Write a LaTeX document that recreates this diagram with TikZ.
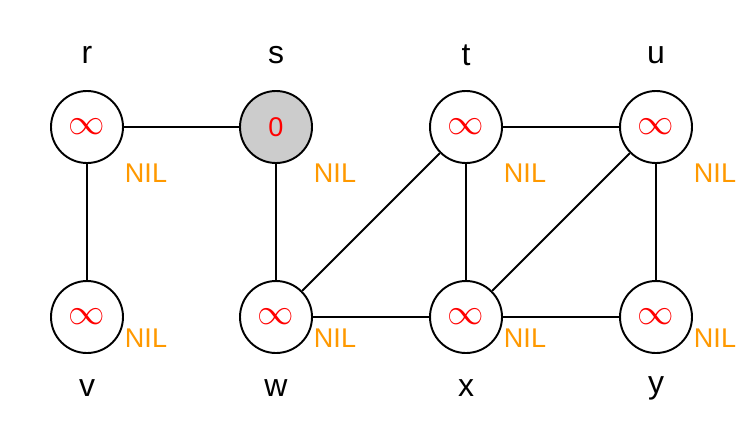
\documentclass[tikz,border=0pt]{standalone}
\usepackage{fontspec}
\setmainfont{Liberation Sans}
\usepackage{amsmath}
\usepackage{amssymb}

\definecolor{nilorange}{HTML}{FF9900}
\definecolor{srcgray}{HTML}{CCCCCC}

\tikzset{
  vert/.style={circle,draw=black,line width=1.1pt,fill=white,minimum size=1.44cm,inner sep=0pt,text=red,font=\fontsize{15.4}{18}\selectfont},
  inf/.style={font=\fontsize{20}{22}\selectfont},
  nil/.style={text=nilorange,font=\fontsize{15.4}{18}\selectfont},
  lbl/.style={font=\fontsize{18.2}{21}\selectfont}
}

\begin{document}
\begin{tikzpicture}
\useasboundingbox (0,0) rectangle (15.08,-8.54);
\node[vert,inf] (r) at (1.74,-2.54){$\infty$};
\node[vert,fill=srcgray] (s) at (5.52,-2.54){0};
\node[vert,inf] (t) at (9.32,-2.54){$\infty$};
\node[vert,inf] (u) at (13.12,-2.54){$\infty$};
\node[vert,inf] (v) at (1.74,-6.34){$\infty$};
\node[vert,inf] (w) at (5.52,-6.34){$\infty$};
\node[vert,inf] (x) at (9.32,-6.34){$\infty$};
\node[vert,inf] (y) at (13.12,-6.34){$\infty$};
\draw[black,line width=1.1pt](r) -- (s);
\draw[black,line width=1.1pt](r) -- (v);
\draw[black,line width=1.1pt](s) -- (w);
\draw[black,line width=1.1pt](t) -- (u);
\draw[black,line width=1.1pt](t) -- (x);
\draw[black,line width=1.1pt](t) -- (w);
\draw[black,line width=1.1pt](u) -- (x);
\draw[black,line width=1.1pt](u) -- (y);
\draw[black,line width=1.1pt](w) -- (x);
\draw[black,line width=1.1pt](x) -- (y);
\node[lbl] (rl) at (1.74,-1.10){r};
\node[lbl] (sl) at (5.52,-1.10){s};
\node[lbl] (tl) at (9.32,-1.10){t};
\node[lbl] (ul) at (13.12,-1.10){u};
\node[lbl] (vl) at (1.74,-7.76){v};
\node[lbl] (wl) at (5.52,-7.76){w};
\node[lbl] (xl) at (9.32,-7.76){x};
\node[lbl] (yl) at (13.12,-7.76){y};
\node[nil] (rn) at (2.92,-3.46){NIL};
\node[nil] (sn) at (6.70,-3.46){NIL};
\node[nil] (tn) at (10.50,-3.46){NIL};
\node[nil] (un) at (14.30,-3.46){NIL};
\node[nil] (vn) at (2.92,-6.76){NIL};
\node[nil] (wn) at (6.70,-6.76){NIL};
\node[nil] (xn) at (10.50,-6.76){NIL};
\node[nil] (yn) at (14.30,-6.76){NIL};
\end{tikzpicture}
\end{document}
